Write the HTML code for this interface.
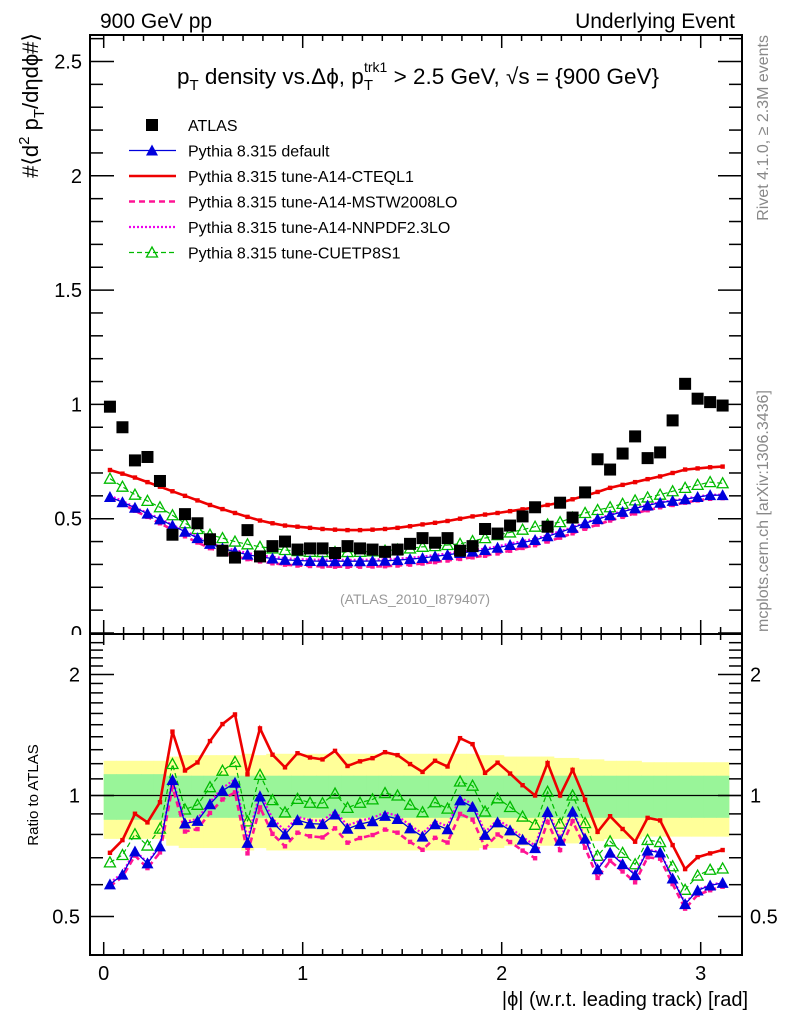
<!DOCTYPE html>
<html><head><meta charset="utf-8"><style>
body{margin:0;background:#fff}
svg{display:block;font-family:"Liberation Sans",sans-serif}
</style></head><body>
<svg id="c" width="786" height="1024" viewBox="0 0 786 1024" xmlns="http://www.w3.org/2000/svg">
<defs>
<clipPath id="mainClip"><rect x="90" y="35" width="652" height="599"/></clipPath>
<clipPath id="ratioClip"><rect x="90" y="634" width="652" height="321"/></clipPath>
</defs>
<text x="100" y="28" font-size="21">900 GeV pp</text>
<text x="735" y="28" font-size="21" text-anchor="end">Underlying Event</text>
<g id="bands" clip-path="url(#ratioClip)"></g>
<line x1="90" x2="742" y1="795.5" y2="795.5" stroke="#000" stroke-width="1.3"/>
<g id="mainSeries" clip-path="url(#mainClip)"></g>
<g id="ratioSeries" clip-path="url(#ratioClip)"></g>
<g id="axes"></g>
<rect x="90" y="35" width="652" height="599" fill="none" stroke="#000" stroke-width="2"/>
<rect x="90" y="634" width="652" height="321" fill="none" stroke="#000" stroke-width="2"/>
<text x="418" y="84" font-size="22.5" text-anchor="middle">p<tspan font-size="15" dy="6">T</tspan><tspan dy="-6"> density vs.Δϕ, p</tspan><tspan font-size="15" dy="6">T</tspan><tspan font-size="14" dx="-9" dy="-18">trk1</tspan><tspan dy="12"> &gt; 2.5 GeV, √s = {900 GeV}</tspan></text>
<g id="legend"></g>
<text x="415" y="604" font-size="14" fill="#999" text-anchor="middle">(ATLAS_2010_I879407)</text>
<text transform="translate(768,35) rotate(-90)" font-size="16" fill="#888" text-anchor="end">Rivet 4.1.0, ≥ 2.3M events</text>
<text transform="translate(768,632) rotate(-90)" font-size="16" fill="#888">mcplots.cern.ch [arXiv:1306.3436]</text>
<text transform="translate(38,33) rotate(-90)" font-size="22" text-anchor="end">#⟨d<tspan font-size="15" dy="-9">2</tspan><tspan dy="9"> p</tspan><tspan font-size="15" dy="6">T</tspan><tspan dy="-6">/dηdϕ#⟩</tspan></text>
<text transform="translate(38,795) rotate(-90)" font-size="15" text-anchor="middle">Ratio to ATLAS</text>
<text x="748" y="1006" font-size="20" text-anchor="end">|ϕ| (w.r.t. leading track) [rad]</text>
</svg>
<script>
const atlas=[0.99,0.90,0.755,0.77,0.665,0.43,0.52,0.48,0.41,0.36,0.33,0.45,0.335,0.38,0.40,0.365,0.37,0.37,0.35,0.38,0.37,0.365,0.355,0.365,0.39,0.415,0.395,0.415,0.36,0.38,0.455,0.435,0.47,0.51,0.55,0.465,0.57,0.505,0.615,0.76,0.715,0.785,0.86,0.765,0.79,0.93,1.09,1.025,1.01,0.995];
const pyDefault=[0.595,0.572,0.548,0.522,0.497,0.47,0.443,0.415,0.39,0.37,0.355,0.343,0.333,0.326,0.32,0.317,0.315,0.314,0.314,0.314,0.314,0.315,0.316,0.319,0.323,0.328,0.335,0.342,0.35,0.356,0.363,0.373,0.385,0.396,0.407,0.423,0.44,0.46,0.48,0.498,0.515,0.53,0.545,0.558,0.57,0.578,0.585,0.595,0.603,0.603];
const pyCTEQL1=[0.713,0.697,0.68,0.66,0.64,0.62,0.60,0.58,0.56,0.542,0.525,0.508,0.492,0.48,0.47,0.465,0.46,0.455,0.452,0.45,0.45,0.452,0.455,0.46,0.467,0.475,0.482,0.49,0.5,0.51,0.518,0.525,0.533,0.541,0.55,0.56,0.57,0.585,0.6,0.617,0.635,0.648,0.66,0.673,0.685,0.7,0.715,0.72,0.725,0.728];
const pyMSTW=[0.588,0.565,0.535,0.508,0.48,0.452,0.423,0.396,0.371,0.352,0.336,0.323,0.313,0.305,0.299,0.295,0.293,0.291,0.29,0.29,0.29,0.291,0.292,0.295,0.299,0.304,0.31,0.317,0.324,0.331,0.338,0.348,0.36,0.372,0.384,0.4,0.417,0.436,0.456,0.474,0.492,0.508,0.523,0.537,0.55,0.56,0.57,0.58,0.587,0.59];
const pyNNPDF=[0.6,0.578,0.55,0.525,0.5,0.473,0.447,0.42,0.395,0.376,0.362,0.35,0.34,0.333,0.327,0.323,0.321,0.32,0.32,0.32,0.32,0.321,0.322,0.325,0.329,0.334,0.341,0.348,0.356,0.362,0.369,0.379,0.391,0.402,0.413,0.428,0.445,0.463,0.483,0.5,0.518,0.533,0.548,0.561,0.572,0.58,0.588,0.597,0.605,0.605];
const pyCUETP8S1=[0.675,0.64,0.605,0.578,0.55,0.515,0.48,0.455,0.43,0.415,0.40,0.388,0.377,0.37,0.363,0.358,0.355,0.354,0.354,0.354,0.355,0.357,0.36,0.365,0.37,0.377,0.38,0.385,0.39,0.402,0.415,0.428,0.44,0.452,0.465,0.475,0.485,0.505,0.525,0.538,0.55,0.565,0.58,0.593,0.605,0.62,0.635,0.648,0.66,0.655];
const totErr=[0.22,0.22,0.22,0.22,0.22,0.25,0.26,0.26,0.26,0.26,0.26,0.27,0.26,0.27,0.27,0.27,0.27,0.27,0.27,0.27,0.27,0.27,0.27,0.27,0.27,0.27,0.27,0.27,0.27,0.27,0.26,0.26,0.25,0.25,0.25,0.25,0.24,0.24,0.23,0.23,0.22,0.22,0.22,0.21,0.21,0.21,0.21,0.21,0.21,0.21];
const statErr=[0.13,0.13,0.13,0.13,0.13,0.12,0.12,0.12,0.12,0.12,0.12,0.12,0.12,0.12,0.12,0.12,0.12,0.12,0.12,0.12,0.12,0.12,0.12,0.12,0.12,0.12,0.12,0.12,0.12,0.12,0.12,0.12,0.12,0.12,0.12,0.12,0.12,0.12,0.12,0.12,0.12,0.12,0.12,0.12,0.12,0.12,0.12,0.12,0.12,0.12];
const xTicks=[0,1,2,3];
const yTicks=[0,0.5,1,1.5,2,2.5];
const rTicks=[0.5,1,2];

const NS="http://www.w3.org/2000/svg";
const nb=atlas.length, bw=Math.PI/nb;
const X=v=>103.7+199*v;
const Y=v=>633-228.6*v;
const R=r=>795.5-121*Math.log2(r);
const ctr=i=>(i+0.5)*bw;
function mk(tag,attrs,parent){const e=document.createElementNS(NS,tag);for(const k in attrs)e.setAttribute(k,attrs[k]);parent.appendChild(e);return e;}
const mainG=document.getElementById('mainSeries'), ratG=document.getElementById('ratioSeries');
const bandG=document.getElementById('bands'), axG=document.getElementById('axes'), legG=document.getElementById('legend');

for(let i=0;i<nb;i++){
  const x0=X(i*bw), x1=X((i+1)*bw);
  const y=mk('rect',{x:x0,y:R(1+totErr[i]),width:x1-x0+0.5,height:R(1-totErr[i])-R(1+totErr[i]),fill:'#ffff99'},bandG);
  
  
}
for(let i=0;i<nb;i++){
  const x0=X(i*bw), x1=X((i+1)*bw);
  const g=mk('rect',{x:x0,y:R(1+statErr[i]),width:x1-x0+0.5,height:R(1-statErr[i])-R(1+statErr[i]),fill:'#99f599'},bandG);
  
  
}

function marker(g,type,color,x,y){
  let e;
  if(type==='sq') e=mk('rect',{x:x-2.2,y:y-2.2,width:4.4,height:4.4,fill:color},g);
  else if(type==='tri') e=mk('polygon',{points:`${x},${y-6} ${x-6},${y+5} ${x+6},${y+5}`,fill:color},g);
  else if(type==='otri') e=mk('polygon',{points:`${x},${y-5.5} ${x-5.5},${y+4.5} ${x+5.5},${y+4.5}`,fill:'none',stroke:color,'stroke-width':1.3},g);
  else return;
  
  
}
const series=[
 {name:'pythia-default',vals:pyDefault,color:'#0000dd',w:1.3,dash:'',m:'tri'},
 {name:'pythia-a14-cteql1',vals:pyCTEQL1,color:'#ee0000',w:2.6,dash:'',m:'sq'},
 {name:'pythia-a14-mstw2008lo',vals:pyMSTW,color:'#ff1493',w:2.6,dash:'6,4',m:'sq'},
 {name:'pythia-a14-nnpdf23lo',vals:pyNNPDF,color:'#ee00ee',w:2.2,dash:'2,2',m:'none'},
 {name:'pythia-cuetp8s1',vals:pyCUETP8S1,color:'#00bb00',w:1.2,dash:'5,3',m:'otri'}
];
const drawOrder=[1,4,2,3,0];
for(const si of drawOrder){
  const s=series[si];
  for(const [g,fn,suffix] of [[mainG,(v,i)=>Y(v),'main'],[ratG,(v,i)=>R(v/atlas[i]),'ratio']]){
    const pts=s.vals.map((v,i)=>X(ctr(i)).toFixed(1)+','+fn(v,i).toFixed(1)).join(' ');
    const pl=mk('polyline',{points:pts,fill:'none',stroke:s.color,'stroke-width':s.w,'stroke-dasharray':s.dash},g);
    
    
    const mg=mk('g',{},g);
    
    
    s.vals.forEach((v,i)=>marker(mg,s.m,s.color,X(ctr(i)),fn(v,i)));
  }
}
atlas.forEach((v,i)=>{
  const r=mk('rect',{x:X(ctr(i))-6,y:Y(v)-6,width:12,height:12,fill:'#000'},mainG);
  
  
});

function line(x1,y1,x2,y2,w){const l=mk('line',{x1,y1,x2,y2,stroke:'#000','stroke-width':w||1.5},axG);}
function text(x,y,s,anchor,name){const t=mk('text',{x,y,'font-size':20,'text-anchor':anchor},axG);t.textContent=s;}
for(let k=0;k<=31;k++){
  const v=k/10, x=X(v); if(x>741)break;
  const maj=(k%10===0), L=maj?13:6;
  line(x,633,x,633-L); line(x,35,x,35+L);
  line(x,955,x,955-L); line(x,635,x,635+(maj?10:5));
}
xTicks.forEach(v=>text(X(v),980,String(v),'middle','x-tick-label'));
for(let k=0;k<=26;k++){
  const v=k/10, y=Y(v); if(y<36)break;
  const maj=(k%5===0), L=maj?24:13;
  line(90,y,90+L,y); line(742,y,742-L,y);
}
yTicks.forEach(v=>text(82,Y(v)+7,String(v),'end','y-tick-label'));
const cover=mk('rect',{x:0,y:635,width:89,height:25,fill:'#fff'},axG);


const rMinor=[0.4,0.5,0.6,0.7,0.8,0.9,1,1.1,1.2,1.3,1.4,1.5,1.6,1.7,1.8,1.9,2,2.1,2.2,2.3,2.4,2.5];
rMinor.forEach(v=>{
  const y=R(v); if(y<636||y>954)return;
  const maj=rTicks.includes(v), L=maj?24:13;
  line(90,y,90+L,y); line(742,y,742-L,y);
});
rTicks.forEach(v=>{text(80,R(v)+7,String(v),'end','ratio-tick-label-left');text(750,R(v)+7,String(v),'start','ratio-tick-label-right');});

const legItems=[
 {label:'ATLAS',name:'legend-atlas'},
 {label:'Pythia 8.315 default',s:0},
 {label:'Pythia 8.315 tune-A14-CTEQL1',s:1},
 {label:'Pythia 8.315 tune-A14-MSTW2008LO',s:2},
 {label:'Pythia 8.315 tune-A14-NNPDF2.3LO',s:3},
 {label:'Pythia 8.315 tune-CUETP8S1',s:4}
];
legItems.forEach((it,j)=>{
  const y=125+j*25.5;
  const g=mk('g',{},legG);
  
  
  if(it.s===undefined){mk('rect',{x:146,y:y-6,width:12,height:12,fill:'#000'},g);}
  else{
    const s=series[it.s];
    mk('line',{x1:129,x2:176,y1:y,y2:y,stroke:s.color,'stroke-width':s.w,'stroke-dasharray':s.dash},g);
    if(s.m==='tri'||s.m==='otri')marker(g,s.m,s.color,152,y);
  }
  const t=mk('text',{x:188,y:y+6,'font-size':16},g);
  t.textContent=it.label;
});
</script>
</body></html>
